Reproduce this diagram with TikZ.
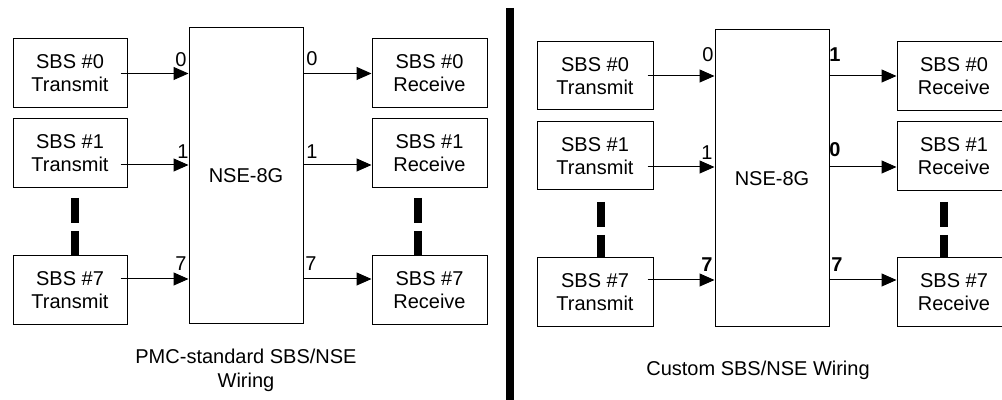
\documentclass[tikz,border=0pt]{standalone}
\usepackage{fontspec}
\setmainfont{Liberation Sans}
\usetikzlibrary{arrows.meta,calc}
\begin{document}
\begin{tikzpicture}[x=0.5pt,y=-0.5pt]
\tikzset{
  box/.style={draw=black, line width=0.5pt, minimum width=57pt, minimum height=34.5pt,
    inner sep=0pt, align=center, font=\fontsize{10pt}{11.5pt}\selectfont},
  arr/.style={-{Triangle[length=7.5pt,width=6.5pt]}, line width=0.5pt},
  num/.style={inner sep=0pt, font=\fontsize{10pt}{11.5pt}\selectfont},
  bnum/.style={inner sep=0pt, font=\fontsize{10pt}{11.5pt}\selectfont\bfseries},
  vdots/.style={line width=4pt, dash pattern=on 12.5pt off 4pt},
  sepline/.style={line width=4pt},
  captext/.style={align=center, inner sep=0pt, font=\fontsize{10pt}{12pt}\selectfont}
}
\useasboundingbox (0,0) rectangle (1002,400);

% ---------------- left panel ----------------
\node[box] (t0) at (70,73.5) {SBS \#0\\Transmit};
\node[box] (t1) at (70,153.5) {SBS \#1\\Transmit};
\node[box] (t7) at (70,290.5) {SBS \#7\\Transmit};
\node[box, minimum height=148pt] (nse) at (246,176) {NSE-8G};
\node[box, minimum width=57.5pt] (r0) at (429.5,73.5) {SBS \#0\\Receive};
\node[box, minimum width=57.5pt] (r1) at (429.5,153.5) {SBS \#1\\Receive};
\node[box, minimum width=57.5pt] (r7) at (429.5,290.5) {SBS \#7\\Receive};

\draw[arr] ([xshift=-3.5pt]t0.east) coordinate (a0) -- (a0 -| nse.west);
\draw[arr] ([xshift=-3.5pt,yshift=-5.75pt]t1.east) coordinate (a1) -- (a1 -| nse.west);
\draw[arr] ([xshift=-3.5pt,yshift=5.75pt]t7.east) coordinate (a7) -- (a7 -| nse.west);
\draw[arr] (a0 -| nse.east) -- (a0 -| r0.west);
\draw[arr] (a1 -| nse.east) -- (a1 -| r1.west);
\draw[arr] (a7 -| nse.east) -- (a7 -| r7.west);

\node[num] (li0) at (181,60) {0};
\node[num] (li1) at (183,152) {1};
\node[num] (li7) at (181,264) {7};
\node[num] (lo0) at (312,59) {0};
\node[num] (lo1) at (312,152) {1};
\node[num] (lo7) at (311,264) {7};

\draw[vdots] (75,198) -- (75,256);
\draw[vdots] (418,198) -- (418,256);

\node[captext] (capL) at (246,370) {PMC-standard SBS/NSE\\Wiring};

% ---------------- separator ----------------
\draw[sepline] (510,8) -- (510,400);

% ---------------- right panel ----------------
\node[box, minimum width=58pt, minimum height=34pt] (u0) at (595,76) {SBS \#0\\Transmit};
\node[box, minimum width=58pt, minimum height=34pt] (u1) at (595,156) {SBS \#1\\Transmit};
\node[box, minimum width=58pt, minimum height=34.5pt] (u7) at (595,292.5) {SBS \#7\\Transmit};
\node[box, minimum height=148.5pt] (nse2) at (772,178.5) {NSE-8G};
\node[box] (s0) at (954,76) {SBS \#0\\Receive};
\node[box] (s1) at (954,156) {SBS \#1\\Receive};
\node[box] (s7) at (954,292.5) {SBS \#7\\Receive};

\draw[arr] ([xshift=-3pt]u0.east) coordinate (b0) -- (b0 -| nse2.west);
\draw[arr] ([xshift=-3pt,yshift=-5.5pt]u1.east) coordinate (b1) -- (b1 -| nse2.west);
\draw[arr] ([xshift=-3pt,yshift=6.25pt]u7.east) coordinate (b7) -- (b7 -| nse2.west);
\draw[arr] (b0 -| nse2.east) -- (b0 -| s0.west);
\draw[arr] (b1 -| nse2.east) -- (b1 -| s1.west);
\draw[arr] (b7 -| nse2.east) -- (b7 -| s7.west);

\node[num] (mi0) at (708,55) {0};
\node[num] (mi1) at (707,153) {1};
\node[bnum] (mi7) at (707,265) {7};
\node[bnum] (mo1) at (835,55) {1};
\node[bnum] (mo0) at (835,150) {0};
\node[bnum] (mo7) at (837,265) {7};

\draw[vdots] (601,202) -- (601,258);
\draw[vdots] (944,202) -- (944,258);

\node[captext] (capR) at (758,370) {Custom SBS/NSE Wiring};
\end{tikzpicture}
\end{document}
